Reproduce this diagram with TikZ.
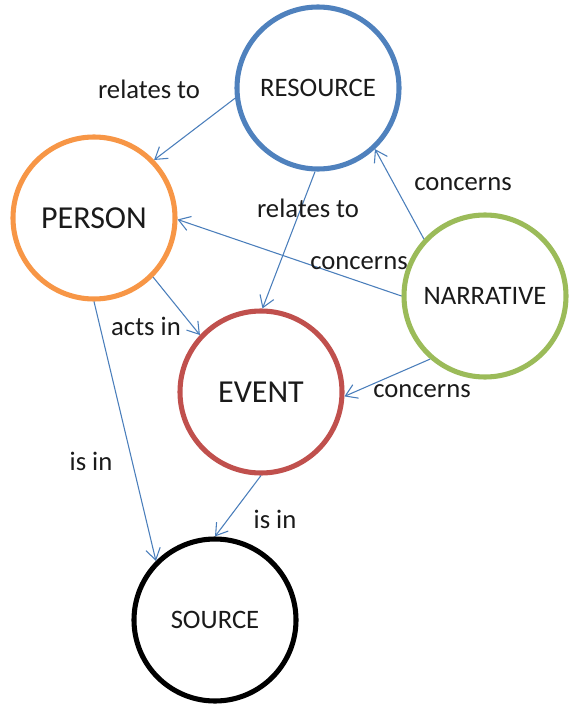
\documentclass[tikz,border=0pt]{standalone}
\usepackage{fontspec}
\setmainfont{Carlito}
\usetikzlibrary{arrows.meta}
\definecolor{resblue}{HTML}{4F81BD}
\definecolor{perorange}{HTML}{F79646}
\definecolor{narrgreen}{HTML}{9BBB59}
\definecolor{evred}{HTML}{C0504D}
\definecolor{linkblue}{HTML}{4A7EBB}
\definecolor{inktext}{HTML}{1A1A1A}
\tikzset{
  x=0.75pt, y=-0.75pt,
  entity/.style={circle, draw, line width=3.8pt, minimum size=121.5pt,
    inner sep=0pt, text=inktext, font=\fontsize{20}{24}\selectfont},
  bigentity/.style={entity, font=\fontsize{24}{28}\selectfont},
  link/.style={draw=linkblue, line width=0.8pt,
    -{Straight Barb[length=8.5pt, width=11pt, line width=0.8pt]}},
  linklabel/.style={text=inktext, inner sep=0pt, font=\fontsize{20}{24}\selectfont}
}
\begin{document}
\begin{tikzpicture}
\useasboundingbox (0,0) rectangle (568,706);

% entities
\node[entity, draw=resblue] (res) at (318,88) {RESOURCE};
\node[bigentity, draw=perorange] (per) at (94,218) {PERSON};
\node[entity, draw=narrgreen] (nar) at (485,296) {NARRATIVE};
\node[bigentity, draw=evred] (ev) at (261,392) {EVENT};
\node[entity, draw=black] (src) at (215,620) {SOURCE};

% relations
\draw[link] (res.187) -- (per.44);
\draw[link] (res.268) -- (ev.89);
\draw[link] (nar.137) -- (res.-47);
\draw[link] (nar.180) -- (per.-1);
\draw[link] (nar.229) -- (ev.-3);
\draw[link] (per.-45) -- (ev.137);
\draw[link] (per.270) -- (src.135);
\draw[link] (ev.270) -- (src.90);

% relation labels
\node[linklabel] (l1) at (149,89) {relates to};
\node[linklabel] (l2) at (308,208) {relates to};
\node[linklabel] (l3) at (463,184) {concerns};
\node[linklabel] (l4) at (359,263) {concerns};
\node[linklabel] (l5) at (422,391) {concerns};
\node[linklabel] (l6) at (146,326) {acts in};
\node[linklabel] (l7) at (91,461) {is in};
\node[linklabel] (l8) at (275,519) {is in};
\end{tikzpicture}
\end{document}
